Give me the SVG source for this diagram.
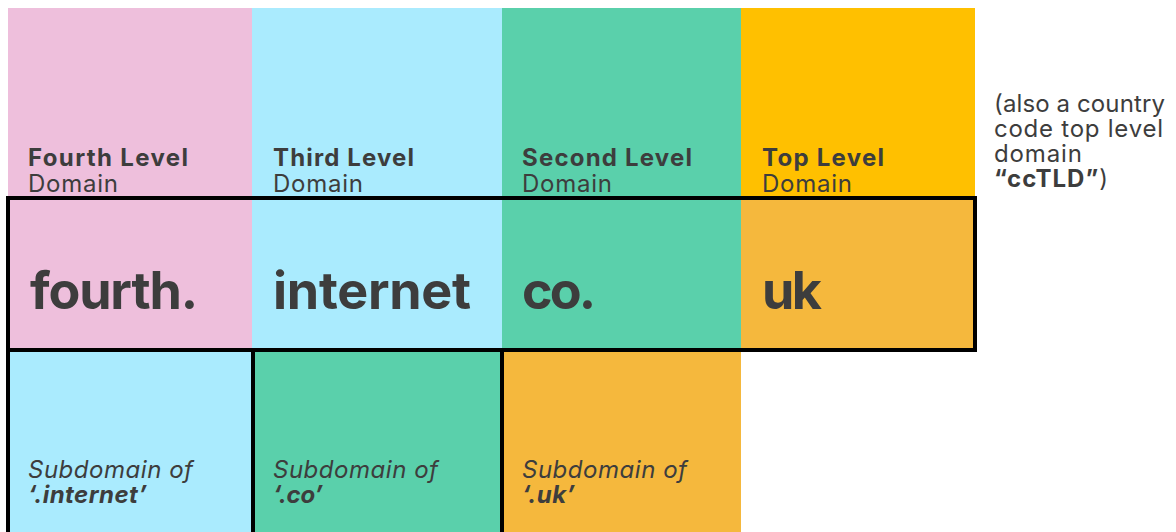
<svg xmlns="http://www.w3.org/2000/svg" width="1176" height="532" viewBox="0 0 1176 532">
<style>
text{font-family:Inter,Lato,"Noto Sans",sans-serif;fill:#3d3d3d}
.h{font-size:24px;font-weight:700}
.s{font-size:24px;font-weight:400}
.big{font-size:52px;font-weight:700}
.it{font-size:24px;font-style:italic}
.bi{font-size:24px;font-style:italic;font-weight:700}
.note{font-size:24px}
.pink{fill:#EEBFDC}.blue{fill:#AAEBFE}.green{fill:#5AD0AB}.yellow{fill:#FFC000}.orange{fill:#F5B83D}
.edge{fill:none;stroke:#000;stroke-width:4}
</style>
<g id="fourth-level-header"><rect class="pink" x="8" y="8" width="244" height="190"/><text class="h" x="28" y="166" textLength="160">Fourth Level</text><text class="s" x="28" y="192" textLength="90">Domain</text></g>
<g id="third-level-header"><rect class="blue" x="252" y="8" width="250" height="190"/><text class="h" x="273" y="166" textLength="141">Third Level</text><text class="s" x="273" y="192" textLength="90">Domain</text></g>
<g id="second-level-header"><rect class="green" x="502" y="8" width="239" height="190"/><text class="h" x="522" y="166" textLength="170">Second Level</text><text class="s" x="522" y="192" textLength="90">Domain</text></g>
<g id="top-level-header"><rect class="yellow" x="741" y="8" width="234" height="190"/><text class="h" x="762" y="166" textLength="122">Top Level</text><text class="s" x="762" y="192" textLength="90">Domain</text></g>
<g id="note"><text class="note" x="994" y="112" textLength="171">(also a country</text><text class="note" x="994" y="137" textLength="169">code top level</text><text class="note" x="994" y="162" textLength="88">domain</text><text class="note" x="994" y="187" textLength="114"><tspan font-weight="700">“ccTLD”</tspan>)</text></g>
<g id="fourth"><rect class="pink" x="8" y="198" width="244" height="152"/><text class="big" x="30" y="309" textLength="168">fourth.</text></g>
<g id="internet"><rect class="blue" x="252" y="198" width="250" height="152"/><text class="big" x="273" y="309" textLength="198">internet</text></g>
<g id="co"><rect class="green" x="502" y="198" width="239" height="152"/><text class="big" x="522" y="309" textLength="74">co.</text></g>
<g id="uk"><rect class="orange" x="741" y="198" width="234" height="152"/><text class="big" x="762" y="309" textLength="60">uk</text></g>
<g id="sub-internet"><rect class="blue" x="8" y="350" width="245" height="182"/><text class="it" x="28" y="478" textLength="165">Subdomain of</text><text class="bi" x="28" y="503" textLength="119">‘.internet’</text></g>
<g id="sub-co"><rect class="green" x="253" y="350" width="249" height="182"/><text class="it" x="273" y="478" textLength="165">Subdomain of</text><text class="bi" x="273" y="503" textLength="50">‘.co’</text></g>
<g id="sub-uk"><rect class="orange" x="502" y="350" width="239" height="182"/><text class="it" x="522" y="478" textLength="165">Subdomain of</text><text class="bi" x="522" y="503" textLength="53">‘.uk’</text></g>
<g id="connectors">
<rect class="edge" x="8" y="198" width="967" height="152"/>
<line class="edge" x1="8" y1="350" x2="8" y2="532"/>
<line class="edge" x1="253" y1="350" x2="253" y2="532"/>
<line class="edge" x1="502" y1="350" x2="502" y2="532"/>
</g>
</svg>
